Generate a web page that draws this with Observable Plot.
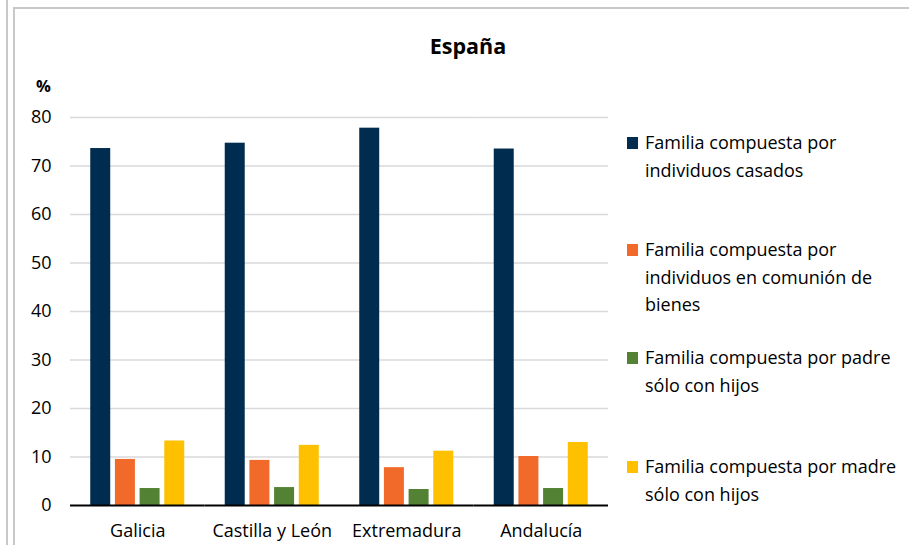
<!DOCTYPE html>
<html>
<head>
<meta charset="utf-8">
<script src="https://cdn.jsdelivr.net/npm/d3@7"></script>
<script src="https://cdn.jsdelivr.net/npm/@observablehq/plot@0.6"></script>
<style>
  html, body { margin: 0; padding: 0; background: #fff; }
  #wrap { position: relative; width: 909px; height: 545px; overflow: hidden; background: #fff; font-family: "Open Sans", sans-serif; color: #000; }
  #lineA { position: absolute; left: 6px; top: 0; width: 2px; height: 545px; background: #c8c8c8; }
  #box { position: absolute; left: 13px; top: 7px; width: 920px; height: 560px; border-left: 2px solid #c8c8c8; border-top: 2px solid #c8c8c8; }
  #chart { position: absolute; left: 0; top: 0; }
  #title { position: absolute; left: 368px; width: 200px; top: 31px; text-align: center; font-weight: bold; font-size: 21.5px; line-height: 30px; }
  #unit { position: absolute; left: 36px; top: 75px; font-weight: bold; font-size: 16.5px; line-height: 22px; }
  .leg { position: absolute; left: 627px; width: 290px; font-size: 18px; line-height: 27.5px; }
  .leg .sw { position: absolute; left: 0; top: 8px; width: 11px; height: 12px; }
  .leg .tx { margin-left: 18px; }
</style>
</head>
<body>
<div id="wrap">
  <div id="lineA"></div>
  <div id="box"></div>
  <div id="chart"></div>
  <div id="title"></div>
  <div id="unit"></div>
</div>
<script>
const title = "España";
const unitLabel = "%";
const regions = ["Galicia", "Castilla y León", "Extremadura", "Andalucía"];
const series = [
  "Familia compuesta por individuos casados",
  "Familia compuesta por individuos en comunión de bienes",
  "Familia compuesta por padre sólo con hijos",
  "Familia compuesta por madre sólo con hijos"
];
const casados = [73.6, 74.7, 77.8, 73.5];
const comunion = [9.5, 9.3, 7.8, 10.1];
const padre = [3.5, 3.7, 3.3, 3.5];
const madre = [13.3, 12.4, 11.2, 13.0];
const colors = ["#002d4f", "#f26a2a", "#548235", "#ffc000"];
const yTicks = [0, 10, 20, 30, 40, 50, 60, 70, 80];
const legendTops = [129, 236, 344, 453];

const values = [casados, comunion, padre, madre];
const data = [];
regions.forEach((r, i) => series.forEach((s, j) => data.push({region: r, series: s, value: values[j][i]})));

const chart = Plot.plot({
  width: 909,
  height: 545,
  marginLeft: 70,
  marginRight: 301,
  marginTop: 117,
  marginBottom: 40,
  style: {fontFamily: "Open Sans, sans-serif", fontSize: "18px", color: "#000", background: "transparent"},
  fx: {domain: regions, padding: 0, round: false, label: null, tickSize: 0, tickPadding: 19},
  x: {domain: series, axis: null, round: false, paddingInner: 0.19, paddingOuter: 0.82},
  y: {domain: [0, 80], ticks: yTicks, tickSize: 0, tickPadding: 19, label: null},
  color: {domain: series, range: colors},
  marks: [
    Plot.gridY(yTicks.filter(d => d > 0), {stroke: "#d9d9d9", strokeOpacity: 1, strokeWidth: 1.6}),
    Plot.barY(data, {fx: "region", x: "series", y: "value", fill: "series"}),
    Plot.ruleY([0], {stroke: "#000", strokeWidth: 2})
  ]
});
document.getElementById("chart").appendChild(chart);
document.getElementById("title").textContent = title;
document.getElementById("unit").textContent = unitLabel;

const wrap = document.getElementById("wrap");
series.forEach((s, i) => {
  const d = document.createElement("div");
  d.className = "leg";
  d.style.top = legendTops[i] + "px";
  const sw = document.createElement("div");
  sw.className = "sw";
  sw.style.background = colors[i];
  const tx = document.createElement("div");
  tx.className = "tx";
  tx.textContent = s;
  d.appendChild(sw);
  d.appendChild(tx);
  wrap.appendChild(d);
});
</script>
</body>
</html>
